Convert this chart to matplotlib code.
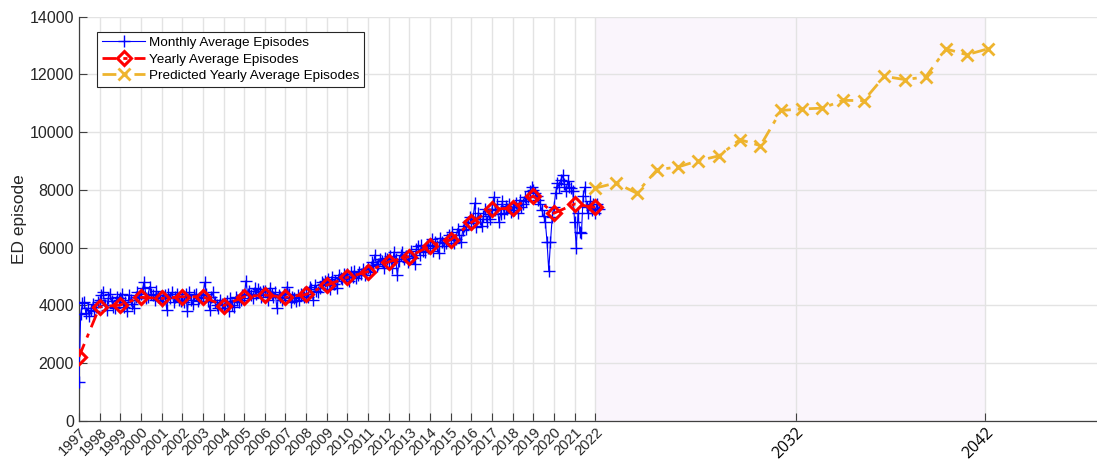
import matplotlib
matplotlib.use("Agg")
import matplotlib.pyplot as plt
import numpy as np

plt.rcParams["font.family"] = ["Liberation Sans", "DejaVu Sans"]

# monthly average episodes, one row per year (1997 .. early 2022)
monthly_rows = [
    [1350, 3700, 4080, 4100, 3730, 3900, 3620, 3850, 4050, 3800, 3950, 4100],  # 1997
    [4180, 4350, 4470, 4000, 3840, 4250, 4400, 4150, 3950, 3900, 4300, 4200],  # 1998
    [4250, 4400, 3950, 4100, 3800, 4350, 4200, 4050, 3900, 4300, 4450, 4250],  # 1999
    [4400, 4600, 4820, 4250, 4300, 4650, 4400, 4350, 4200, 4500, 4300, 4250],  # 2000
    [4150, 4300, 4350, 3850, 4400, 4250, 4450, 4100, 4300, 4400, 4200, 4150],  # 2001
    [4300, 4100, 4400, 3800, 4450, 4200, 4050, 4350, 4400, 4150, 4250, 4300],  # 2002
    [4350, 4800, 4400, 4150, 3850, 4300, 4450, 4100, 4000, 3900, 4200, 4050],  # 2003
    [3900, 4050, 4150, 3800, 4250, 4000, 3950, 4300, 4200, 4100, 4200, 4350],  # 2004
    [4250, 4850, 4400, 4500, 4350, 4250, 4600, 4400, 4550, 4450, 4300, 4500],  # 2005
    [4500, 4350, 4200, 4600, 4400, 4300, 4450, 3900, 4350, 4300, 4200, 4400],  # 2006
    [4250, 4650, 4400, 4100, 4300, 4250, 4150, 4350, 4200, 4400, 4350, 4300],  # 2007
    [4400, 4300, 4650, 4550, 4200, 4700, 4500, 4450, 4600, 4800, 4750, 4850],  # 2008
    [4700, 4900, 4550, 5000, 4750, 4850, 4600, 5050, 4950, 4900, 5100, 5000],  # 2009
    [5100, 4850, 5150, 5000, 5200, 4950, 5050, 5150, 5100, 5250, 5050, 5200],  # 2010
    [5300, 5150, 5500, 5400, 5750, 5350, 5450, 5600, 5550, 5300, 5650, 5600],  # 2011
    [5500, 5700, 5300, 5850, 5600, 5050, 5550, 5750, 5850, 5600, 5700, 5500],  # 2012
    [5700, 5900, 5650, 5450, 5950, 6050, 5750, 6100, 5900, 5850, 6050, 6000],  # 2013
    [6100, 6300, 5900, 6200, 6050, 5800, 6350, 6200, 6050, 6150, 6300, 6450],  # 2014
    [6250, 6550, 6150, 6300, 6650, 6450, 6200, 6600, 6750, 6650, 6900, 7050],  # 2015
    [6850, 7000, 7550, 6700, 7200, 7000, 6750, 7100, 7350, 6900, 7150, 7000],  # 2016
    [7350, 7750, 7300, 7500, 6900, 7150, 7600, 7200, 7450, 7350, 7500, 7250],  # 2017
    [7400, 7300, 7550, 7200, 7650, 7400, 7500, 7750, 7600, 7750, 7950, 8100],  # 2018
    [8000, 7900, 7800, 7650, 7500, 7300, 7100, 6900, 6200, 5200, 6200, 7050],  # 2019
    [7400, 7900, 8250, 8100, 8350, 8500, 8200, 7950, 8300, 8100, 8050, 7950],  # 2020
    [6900, 6000, 7200, 6550, 6500, 7800, 8100, 7400, 7200, 7600, 7300, 7500],  # 2021
    [7200, 7500, 7350],                                                         # 2022
]

years = list(range(1997, 2023))
yearly_avg = [2220, 3950, 4010, 4280, 4240, 4300, 4300, 3990, 4300, 4360, 4280, 4380,
              4700, 4970, 5170, 5510, 5690, 6060, 6270, 6870, 7330, 7370, 7790, 7190,
              7510, 7390]

pred_years = list(range(2022, 2042))
pred_avg = [8060, 8240, 7890, 8700, 8790, 9010, 9180, 9740, 9530, 10750, 10800, 10830,
            11100, 11090, 11930, 11820, 11910, 12880, 12680, 12880]

# the two far ticks as drawn in the picture
far_tick_pos = [2031.7, 2040.9]
far_tick_labels = ["2032", "2042"]

monthly = np.concatenate([np.array(r, float) for r in monthly_rows])
monthly_x = 1997 + np.arange(len(monthly)) / 12.0

DASHDOT = (0, (5, 2.5, 1.5, 2.5))

fig = plt.figure(figsize=(10.97, 4.61), dpi=100)
ax = fig.add_axes([0.072, 0.087, 0.928, 0.877])

ax.axvspan(2022, far_tick_pos[1], color="#faf5fc", lw=0, zorder=0)

ax.plot(monthly_x, monthly, "-+", color="#0000ff", lw=0.8, ms=9, mew=1.0,
        label="Monthly Average Episodes", zorder=3)
ax.plot(years, yearly_avg, color="#ff0000", ls=DASHDOT, lw=2.0, marker="D", ms=7,
        mfc="none", mec="#ff0000", mew=2.2, label="Yearly Average Episodes", zorder=4)
ax.plot(pred_years, pred_avg, color="#eeb42e", ls=DASHDOT, lw=2.0, marker="x", ms=8,
        mew=2.0, label="Predicted Yearly Average Episodes", zorder=4)

ax.set_xlim(1997, 2046.3)
ax.set_ylim(0, 14000)
ax.set_yticks(np.arange(0, 14001, 2000))
ax.set_xticks(years + far_tick_pos)
ax.set_xticklabels([str(y) for y in years] + far_tick_labels)
for lbl in ax.get_xticklabels():
    lbl.set_rotation(45)
    lbl.set_ha("right")
    lbl.set_va("top")
    lbl.set_rotation_mode("anchor")
    lbl.set_fontsize(10.5)
    lbl.set_color("#262626")
for lbl in ax.get_xticklabels()[-2:]:
    lbl.set_fontsize(11.5)
    lbl.set_color("black")
    lbl.set_family(["Open Sans", "DejaVu Sans"])

ax.tick_params(axis="both", direction="in", length=6, width=0.8, color="#404040")
ax.tick_params(axis="x", pad=3)
ax.tick_params(axis="y", labelsize=11.5, labelcolor="#262626")
ax.grid(True, color="#e3e3e3", lw=1.0, zorder=0)
ax.set_axisbelow(True)

for side in ("top", "right"):
    ax.spines[side].set_visible(False)
for side in ("left", "bottom"):
    ax.spines[side].set_color("#404040")
    ax.spines[side].set_linewidth(0.9)

ax.set_ylabel("ED episode", fontsize=12.5, color="#262626", labelpad=2)

leg = ax.legend(loc="upper left", bbox_to_anchor=(0.018, 0.962), fontsize=9.7,
                fancybox=False, framealpha=1, edgecolor="#262626",
                handlelength=3.2, borderpad=0.35, labelspacing=0.3, handletextpad=0.3,
                borderaxespad=0.0)
leg.get_frame().set_linewidth(0.8)

fig.savefig("out.png", dpi=100)
